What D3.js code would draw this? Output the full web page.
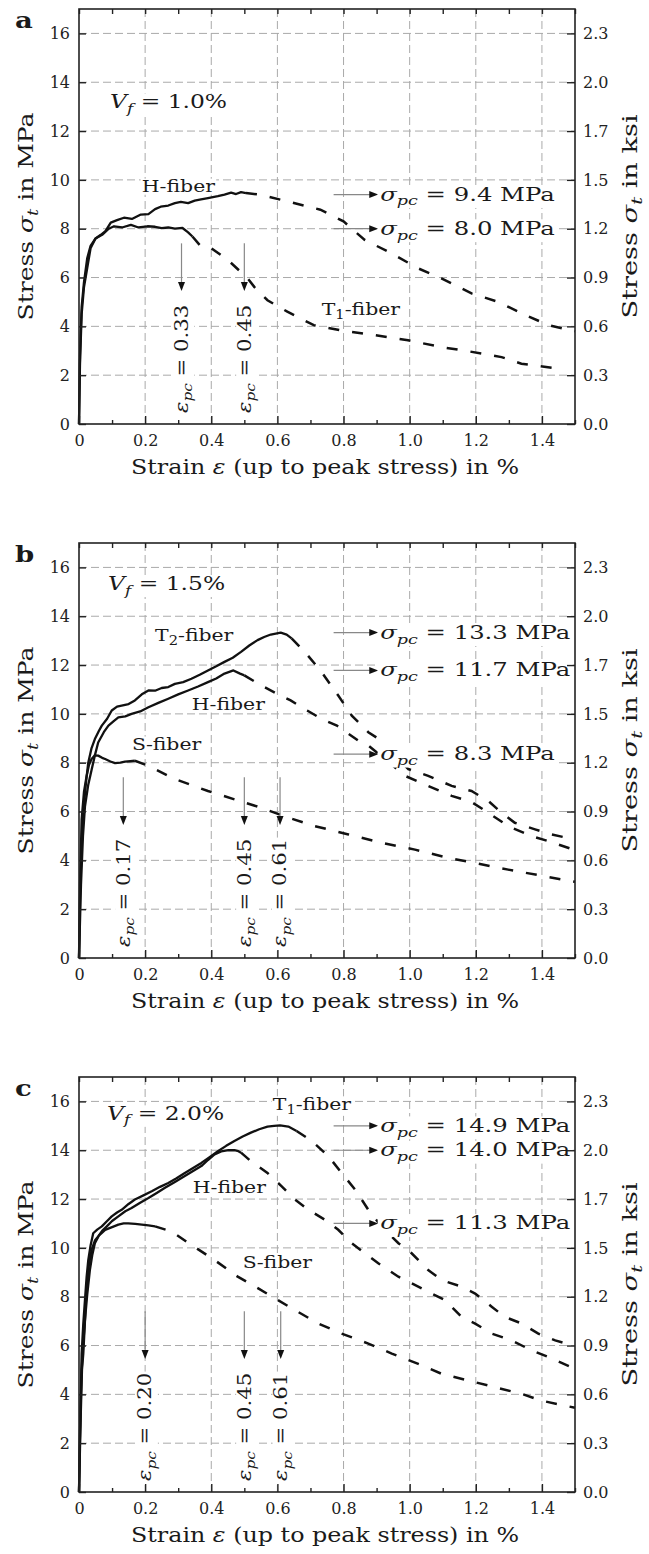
<!DOCTYPE html>
<html>
<head>
<meta charset="utf-8">
<title>Stress-strain curves, Vf = 1.0 / 1.5 / 2.0 %</title>
<script src="https://d3js.org/d3.v7.min.js"></script>
<style>
  body { margin: 0; background: #fff; }
  svg { display: block; font-family: "DejaVu Serif", serif; }
  .grid line { stroke: #aaa; stroke-width: 1; stroke-dasharray: 8,4; }
  .axis line { stroke: #222; stroke-width: 1.4; }
  .axis text { fill: #222; }
</style>
</head>
<body>
<svg id="chart" width="649" height="1554"></svg>
<script>
// ---- data -------------------------------------------------------------
var mpaToKsi = 1 / 6.895;
var xMajor = [0, 0.2, 0.4, 0.6, 0.8, 1.0, 1.2, 1.4];
var xMinor = [0.1, 0.3, 0.5, 0.7, 0.9, 1.1, 1.3, 1.5];
var yTicks = [0, 2, 4, 6, 8, 10, 12, 14, 16];
var fiberContents = ['1.0', '1.5', '2.0'];

// panel a (Vf = 1.0 %)
var aHSolid = [[0,0],[0.003,2.5],[0.008,4.5],[0.015,5.6],[0.025,6.4],[0.035,7.2],[0.05,7.6],[0.066,7.75],[0.08,7.9],[0.096,8.25],[0.115,8.35],[0.136,8.45],[0.16,8.4],[0.187,8.58],[0.21,8.6],[0.23,8.8],[0.247,8.9],[0.27,8.95],[0.29,9.05],[0.308,9.1],[0.33,9.05],[0.35,9.15],[0.369,9.2],[0.39,9.25],[0.42,9.33],[0.44,9.4],[0.46,9.48],[0.475,9.42],[0.49,9.5],[0.505,9.46]];
var aHDash = [[0.545,9.4],[0.63,9.12],[0.73,8.78],[0.8,8.3],[0.864,7.54],[0.944,7.0],[1.025,6.38],[1.096,5.97],[1.187,5.35],[1.268,5.0],[1.35,4.46],[1.42,4.05],[1.5,3.8]];
var aT1Solid = [[0,0],[0.003,2.8],[0.008,4.8],[0.015,5.8],[0.025,6.8],[0.035,7.3],[0.05,7.6],[0.07,7.75],[0.09,8.0],[0.106,8.1],[0.13,8.05],[0.157,8.16],[0.18,8.05],[0.207,8.1],[0.23,8.08],[0.25,8.02],[0.27,8.05],[0.29,8.0],[0.313,8.03],[0.33,7.85],[0.343,7.68]];
var aT1Dash = [[0.369,7.27],[0.4,7.2],[0.45,6.72],[0.51,5.97],[0.53,5.62],[0.57,5.07],[0.63,4.6],[0.71,4.05],[0.79,3.84],[0.894,3.64],[0.995,3.43],[1.096,3.15],[1.177,2.98],[1.278,2.74],[1.338,2.47],[1.44,2.28]];
var aStrainArrowX = [0.31, 0.50];
var aStrainLabels = ['0.33', '0.45'];
var aStressArrowY = [9.4, 8.0];
var aStressLabels = ['9.4', '8.0'];

// panel b (Vf = 1.5 %)
var bT2Solid = [[0,0],[0.004,3],[0.01,5.2],[0.015,6.3],[0.022,7.3],[0.028,8.0],[0.038,8.6],[0.048,8.97],[0.06,9.3],[0.069,9.52],[0.085,9.8],[0.099,10.14],[0.115,10.3],[0.129,10.34],[0.15,10.4],[0.169,10.55],[0.19,10.8],[0.21,10.96],[0.23,10.95],[0.25,11.06],[0.27,11.1],[0.29,11.23],[0.315,11.3],[0.34,11.44],[0.365,11.6],[0.39,11.78],[0.415,11.95],[0.44,12.13],[0.465,12.3],[0.49,12.54],[0.515,12.8],[0.54,13.02],[0.56,13.15],[0.58,13.25],[0.61,13.33],[0.628,13.25],[0.643,13.09]];
var bT2Dash = [[0.683,12.54],[0.734,11.71],[0.784,10.75],[0.825,9.93],[0.875,9.25],[0.915,8.9],[0.956,8.29],[0.996,7.74],[1.056,7.46],[1.127,7.05],[1.187,6.84],[1.238,6.43],[1.278,5.95],[1.318,5.54],[1.379,5.27],[1.43,5.06],[1.5,4.85]];
var bHSolid = [[0,0],[0.006,3],[0.012,5],[0.018,6.2],[0.028,7.1],[0.038,7.7],[0.048,8.3],[0.058,8.83],[0.075,9.25],[0.089,9.52],[0.105,9.7],[0.119,9.86],[0.14,9.9],[0.159,10.0],[0.185,10.1],[0.21,10.27],[0.24,10.45],[0.27,10.62],[0.3,10.8],[0.33,10.96],[0.36,11.12],[0.39,11.3],[0.415,11.45],[0.44,11.65],[0.467,11.78],[0.487,11.65],[0.5,11.58]];
var bHDash = [[0.55,11.17],[0.61,10.75],[0.64,10.55],[0.69,10.14],[0.734,9.79],[0.78,9.52],[0.845,8.9],[0.875,8.7],[0.93,8.1],[0.986,7.46],[1.056,7.05],[1.127,6.64],[1.187,6.39],[1.238,5.95],[1.298,5.4],[1.369,4.99],[1.419,4.79],[1.5,4.42]];
var bSSolid = [[0,0],[0.003,3],[0.008,5.68],[0.015,6.8],[0.023,7.46],[0.03,7.9],[0.038,8.15],[0.048,8.3],[0.058,8.29],[0.07,8.2],[0.079,8.15],[0.095,8.05],[0.109,7.98],[0.125,8.0],[0.139,8.04],[0.155,8.06],[0.169,8.08]];
var bSDash = [[0.21,7.87],[0.29,7.33],[0.39,6.84],[0.47,6.5],[0.55,6.16],[0.633,5.75],[0.714,5.4],[0.815,5.06],[0.915,4.72],[1.016,4.44],[1.117,4.1],[1.187,3.92],[1.298,3.62],[1.399,3.37],[1.5,3.12]];
var bStrainArrowX = [0.134, 0.50, 0.608];
var bStrainLabels = ['0.17', '0.45', '0.61'];
var bStressArrowY = [13.33, 11.78, 8.35];
var bStressLabels = ['13.3', '11.7', '8.3'];

// panel c (Vf = 2.0 %)
var cT1Solid = [[0,0],[0.004,3],[0.008,5.67],[0.013,6.9],[0.018,7.86],[0.023,8.8],[0.028,9.5],[0.035,10.1],[0.043,10.6],[0.055,10.75],[0.069,10.88],[0.085,11.1],[0.099,11.29],[0.115,11.45],[0.129,11.56],[0.15,11.8],[0.169,11.98],[0.195,12.15],[0.22,12.32],[0.245,12.5],[0.27,12.66],[0.295,12.85],[0.32,13.07],[0.345,13.27],[0.37,13.48],[0.395,13.72],[0.42,13.96],[0.445,14.18],[0.47,14.38],[0.495,14.56],[0.52,14.72],[0.545,14.86],[0.57,14.97],[0.59,15.0],[0.608,15.02],[0.633,14.97],[0.658,14.79]];
var cT1Dash = [[0.704,14.38],[0.754,13.76],[0.794,13.07],[0.835,12.39],[0.875,11.56],[0.915,10.88],[0.966,10.19],[1.006,9.78],[1.056,9.09],[1.097,8.68],[1.157,8.41],[1.198,8.13],[1.248,7.59],[1.288,7.17],[1.339,6.9],[1.389,6.49],[1.44,6.21],[1.5,5.98]];
var cHSolid = [[0,0],[0.005,3],[0.009,5],[0.013,5.67],[0.018,7.0],[0.023,8.4],[0.03,9.3],[0.038,9.92],[0.048,10.3],[0.058,10.47],[0.07,10.7],[0.084,10.88],[0.1,11.1],[0.119,11.29],[0.14,11.5],[0.159,11.63],[0.185,11.85],[0.21,12.04],[0.235,12.25],[0.26,12.46],[0.29,12.7],[0.32,12.94],[0.345,13.15],[0.37,13.35],[0.39,13.6],[0.41,13.83],[0.43,13.95],[0.452,14.0],[0.47,14.0],[0.482,13.96],[0.49,13.9]];
var cHDash = [[0.52,13.55],[0.57,13.07],[0.613,12.52],[0.653,11.98],[0.694,11.56],[0.744,11.15],[0.784,10.74],[0.825,10.19],[0.865,9.78],[0.905,9.37],[0.966,8.82],[1.006,8.55],[1.046,8.27],[1.107,7.86],[1.157,7.17],[1.198,6.9],[1.248,6.49],[1.308,6.21],[1.369,5.8],[1.419,5.53],[1.5,5.05]];
var cSSolid = [[0,0],[0.003,2.5],[0.008,4.98],[0.013,6.1],[0.018,7.04],[0.025,8.1],[0.033,9.1],[0.04,9.7],[0.048,10.19],[0.06,10.5],[0.079,10.74],[0.1,10.85],[0.119,10.95],[0.135,11.0],[0.149,11.0],[0.17,10.98],[0.19,10.95],[0.21,10.92],[0.23,10.88]];
var cSDash = [[0.28,10.67],[0.34,10.12],[0.41,9.5],[0.48,8.82],[0.542,8.34],[0.593,7.93],[0.653,7.45],[0.724,6.9],[0.794,6.49],[0.875,6.08],[0.946,5.67],[1.026,5.25],[1.097,4.84],[1.177,4.57],[1.258,4.29],[1.339,4.02],[1.399,3.74],[1.5,3.45]];
var cStrainArrowX = [0.20, 0.50, 0.61];
var cStrainLabels = ['0.20', '0.45', '0.61'];
var cStressArrowY = [15.0, 14.0, 11.0];
var cStressLabels = ['14.9', '14.0', '11.3'];

// ---- layout -----------------------------------------------------------
var left = 79, plotW = 496, plotH = 415;
var panelTops = [9, 543, 1077];

var panels = [
  { letter: 'a', curves: [[aHSolid, aHDash], [aT1Solid, aT1Dash]],
    strainX: aStrainArrowX, strainText: aStrainLabels,
    stressY: aStressArrowY, stressText: aStressLabels,
    vfAt: [0.094, 12.95],
    fibers: [{ n: 'H', sub: '', at: [0.19, 9.5] }, { n: 'T', sub: '1', at: [0.734, 4.47] }] },
  { letter: 'b', curves: [[bT2Solid, bT2Dash], [bHSolid, bHDash], [bSSolid, bSDash]],
    strainX: bStrainArrowX, strainText: bStrainLabels,
    stressY: bStressArrowY, stressText: bStressLabels,
    vfAt: [0.088, 15.08],
    fibers: [{ n: 'T', sub: '2', at: [0.23, 13.0] }, { n: 'H', sub: '', at: [0.341, 10.16] }, { n: 'S', sub: '', at: [0.16, 8.52] }] },
  { letter: 'c', curves: [[cT1Solid, cT1Dash], [cHSolid, cHDash], [cSSolid, cSDash]],
    strainX: cStrainArrowX, strainText: cStrainLabels,
    stressY: cStressArrowY, stressText: cStressLabels,
    vfAt: [0.085, 15.25],
    fibers: [{ n: 'T', sub: '1', at: [0.586, 15.66] }, { n: 'H', sub: '', at: [0.344, 12.25] }, { n: 'S', sub: '', at: [0.495, 9.18] }] }
];

var svg = d3.select('#chart');
svg.append('rect').attr('width', 649).attr('height', 1554).attr('fill', '#fff');

var x = d3.scaleLinear().domain([0, 1.5]).range([left, left + plotW]);

// text made of pieces: {t, it, sub}
function label(parent, px, py, parts, o) {
  var g = parent.append('g').attr('transform',
    'translate(' + px + ',' + py + ')' + (o.rotate ? ' rotate(' + o.rotate + ')' : '') +
    ' scale(' + (o.sx || 1) + ',1)');
  var t = g.append('text').attr('font-size', o.size).attr('fill', '#1a1a1a')
    .attr('text-anchor', o.anchor || 'start').attr('y', o.dy || 0);
  if (o.bold) t.attr('font-weight', 'bold');
  var shift = 0;
  parts.forEach(function(p) {
    var s = t.append('tspan').text(p.t);
    if (p.it) s.attr('font-style', 'italic');
    var want = p.sub ? o.size * 0.26 : 0;
    if (p.sub) s.attr('font-size', o.size * 0.72);
    if (want !== shift) { s.attr('dy', want - shift); shift = want; }
  });
  if (o.bg !== undefined) {
    // white box, trimmed a little top and bottom so close labels do not hide each other
    var b = t.node().getBBox();
    g.insert('rect', 'text').attr('x', b.x - o.bg).attr('y', b.y + 2)
      .attr('width', b.width + 2 * o.bg).attr('height', b.height - 3).attr('fill', '#fff');
  }
  return g;
}

var line = d3.line();

panels.forEach(function(p, i) {
  var top = panelTops[i], bottom = top + plotH;
  var y = d3.scaleLinear().domain([0, 17]).range([bottom, top]);
  var yKsi = d3.scaleLinear().domain([0, 17 * mpaToKsi]).range([bottom, top]);
  line.x(function(d) { return x(d[0]); }).y(function(d) { return y(d[1]); });
  var g = svg.append('g');

  // grid
  var grid = g.append('g').attr('class', 'grid');
  grid.selectAll('.gx').data(xMajor.slice(1)).enter().append('line')
    .attr('x1', function(d) { return x(d); }).attr('x2', function(d) { return x(d); })
    .attr('y1', top).attr('y2', bottom);
  grid.selectAll('.gy').data(yTicks.slice(1)).enter().append('line')
    .attr('x1', left).attr('x2', left + plotW)
    .attr('y1', function(d) { return y(d); }).attr('y2', function(d) { return y(d); });

  // curves: solid up to peak, dashed after
  p.curves.forEach(function(c) {
    g.append('path').attr('d', line(c[0])).attr('fill', 'none')
      .attr('stroke', '#111').attr('stroke-width', 2.3).attr('stroke-linejoin', 'round');
    g.append('path').attr('d', line([c[0][c[0].length - 1]].concat(c[1]))).attr('fill', 'none')
      .attr('stroke', '#111').attr('stroke-width', 2.5).attr('stroke-dasharray', '11,13');
  });

  // peak strain arrows + rotated labels
  p.strainX.forEach(function(v, k) {
    var cx = x(v), tip = y(5.45);
    g.append('line').attr('x1', cx).attr('x2', cx).attr('y1', y(7.4)).attr('y2', tip - 6)
      .attr('stroke', '#888').attr('stroke-width', 1.2);
    g.append('path').attr('d', 'M' + cx + ',' + tip + 'L' + (cx - 3.5) + ',' + (tip - 9) + 'L' + (cx + 3.5) + ',' + (tip - 9) + 'Z')
      .attr('fill', '#111');
    label(g, cx, y(0.45), [{ t: 'ε', it: 1 }, { t: 'pc', it: 1, sub: 1 }, { t: ' = ' + p.strainText[k] }],
      { size: 18, sx: 1.18, rotate: -90, dy: 6.3, bg: 1 });
  });

  // peak stress arrows + labels
  p.stressY.forEach(function(v, k) {
    var cy = y(v), tip = x(0.905);
    g.append('line').attr('x1', x(0.77)).attr('x2', tip - 6).attr('y1', cy).attr('y2', cy)
      .attr('stroke', '#888').attr('stroke-width', 1.2);
    g.append('path').attr('d', 'M' + tip + ',' + cy + 'L' + (tip - 9) + ',' + (cy - 3.5) + 'L' + (tip - 9) + ',' + (cy + 3.5) + 'Z')
      .attr('fill', '#111');
    label(g, tip + 2, cy + 6, [{ t: 'σ', it: 1 }, { t: 'pc', it: 1, sub: 1 }, { t: ' = ' + p.stressText[k] + ' MPa' }],
      { size: 19, sx: 1.28, bg: 2 });
  });

  // fiber names
  p.fibers.forEach(function(f) {
    var parts = [{ t: f.n }];
    if (f.sub) parts.push({ t: f.sub, sub: 1 });
    parts.push({ t: '-fiber' });
    label(g, x(f.at[0]), y(f.at[1]), parts, { size: 17, sx: 1.2, bg: 1 });
  });

  // fiber content
  label(g, x(p.vfAt[0]), y(p.vfAt[1]), [{ t: 'V', it: 1 }, { t: 'f', it: 1, sub: 1 }, { t: ' = ' + fiberContents[i] + '%' }],
    { size: 18, sx: 1.3, bg: 2 });

  // axes, ticks pointing inward
  var ax = g.append('g').attr('class', 'axis').attr('transform', 'translate(0,' + bottom + ')')
    .call(d3.axisBottom(x).tickValues(xMajor).tickSize(-8).tickPadding(11).tickFormat(d3.format('.1f')));
  ax.selectAll('text').text(function(d) { return d === 0 ? '0' : d3.format('.1f')(d); });
  g.append('g').attr('class', 'axis').attr('transform', 'translate(0,' + bottom + ')')
    .call(d3.axisBottom(x).tickValues(xMinor).tickSize(-4).tickFormat(''));
  g.append('g').attr('class', 'axis').attr('transform', 'translate(0,' + top + ')')
    .call(d3.axisTop(x).tickValues(xMajor.concat(xMinor)).tickSize(-5).tickFormat(''));
  g.append('g').attr('class', 'axis').attr('transform', 'translate(' + left + ',0)')
    .call(d3.axisLeft(y).tickValues(yTicks).tickSize(-7).tickPadding(9));
  g.append('g').attr('class', 'axis').attr('transform', 'translate(' + (left + plotW) + ',0)')
    .call(d3.axisRight(yKsi).tickValues(yTicks.map(function(v) { return v * mpaToKsi; }))
      .tickSize(-8).tickPadding(8).tickFormat(d3.format('.1f')));
  g.selectAll('.axis').attr('font-family', null).attr('font-size', 16);
  g.selectAll('.axis .domain').remove();

  g.append('rect').attr('x', left).attr('y', top).attr('width', plotW).attr('height', plotH)
    .attr('fill', 'none').attr('stroke', '#222').attr('stroke-width', 1.6);

  // titles
  label(g, left + plotW / 2 - 2, bottom + 50, [{ t: 'Strain ' }, { t: 'ε', it: 1 }, { t: ' (up to peak stress) in %' }],
    { size: 20, sx: 1.19, anchor: 'middle' });
  label(g, 33, (top + bottom) / 2, [{ t: 'Stress ' }, { t: 'σ', it: 1 }, { t: 't', it: 1, sub: 1 }, { t: ' in MPa' }],
    { size: 20, sx: 1.25, rotate: -90, anchor: 'middle' });
  label(g, 637, (top + bottom) / 2, [{ t: 'Stress ' }, { t: 'σ', it: 1 }, { t: 't', it: 1, sub: 1 }, { t: ' in ksi' }],
    { size: 20, sx: 1.36, rotate: -90, anchor: 'middle' });
  label(g, 15, top + 19, [{ t: p.letter }], { size: 22, sx: 1.25, bold: 1 });
});
</script>
</body>
</html>
